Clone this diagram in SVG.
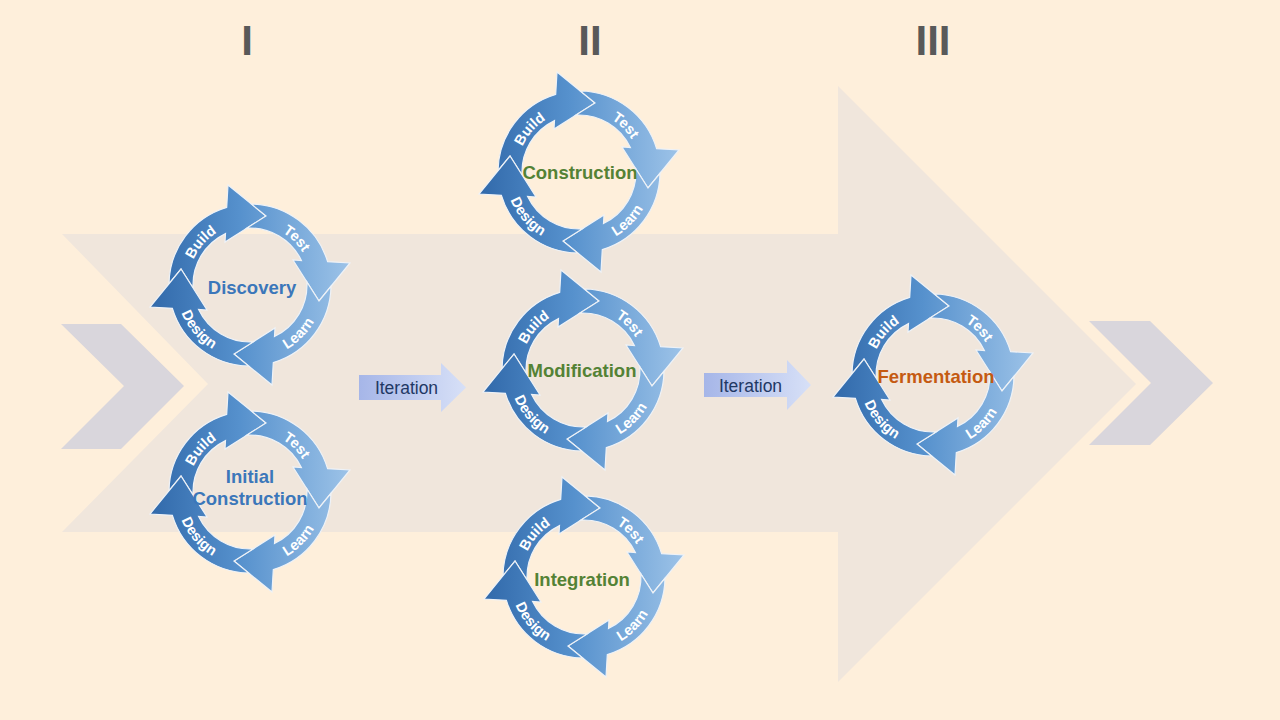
<svg xmlns="http://www.w3.org/2000/svg" width="1280" height="720" viewBox="0 0 1280 720">
<style>
.numeral{font-family:"Liberation Sans",Arial,sans-serif;font-weight:bold;font-size:42px;fill:#595959;text-anchor:middle}
.step{font-family:"Liberation Sans",Arial,sans-serif;font-weight:bold;font-size:14.5px;fill:#FFFFFF;text-anchor:middle}
.title{font-family:"Liberation Sans",Arial,sans-serif;font-weight:bold;font-size:18.5px;text-anchor:middle}
.blue{fill:#3B77BA}
.green{fill:#548235}
.orange{fill:#C55A11}
.iter{font-family:"Liberation Sans",Arial,sans-serif;font-size:17.5px;fill:#1F3864;text-anchor:middle}
.arr{fill:url(#ringGrad);stroke:#EEF2F7;stroke-width:1.2;stroke-linejoin:miter}
.iterArrow{fill:url(#iterGrad)}
</style>
<defs>
<linearGradient id="ringGrad" gradientUnits="userSpaceOnUse" x1="-100" y1="0" x2="100" y2="0">
<stop offset="0" stop-color="#3169AA"/>
<stop offset="0.45" stop-color="#5691CD"/>
<stop offset="1" stop-color="#9DC3E8"/>
</linearGradient>
<linearGradient id="iterGrad" x1="0" y1="0" x2="1" y2="0">
<stop offset="0" stop-color="#A6B6E8"/>
<stop offset="1" stop-color="#D7E0F7"/>
</linearGradient>
<path id="tpBuild" d="M-61.85,4.32 A62,62 0 0 1 -4.32,-61.85"/>
<path id="tpTest" d="M0,-62 A62,62 0 0 1 62,0"/>
<path id="tpLearn" d="M0,74 A74,74 0 0 0 74,0"/>
<path id="tpDesign" d="M-73.82,-5.16 A74,74 0 0 0 -5.16,73.82"/>
<g id="ring">
<path class="arr" d="M-81,-1.3 A81,81 0 0 1 -23.3,-77.6 L-22,-100 L16,-69 L-25,-43 L-24.5,-51.4 A57,57 0 0 0 -56.9,3.1 L-69,-16 Z"/>
<path class="arr" d="M1.3,-81 A81,81 0 0 1 77.6,-23.3 L100,-22 L69,16 L43,-25 L51.4,-24.5 A57,57 0 0 0 -3.1,-56.9 L16,-69 Z"/>
<path class="arr" d="M81,1.3 A81,81 0 0 1 23.3,77.6 L22,100 L-16,69 L25,43 L24.5,51.4 A57,57 0 0 0 56.9,-3.1 L69,16 Z"/>
<path class="arr" d="M-1.3,81 A81,81 0 0 1 -77.6,23.3 L-100,22 L-69,-16 L-43,25 L-51.4,24.5 A57,57 0 0 0 3.1,56.9 L-16,69 Z"/>
</g>
</defs>

<rect x="0" y="0" width="1280" height="720" fill="#FEEFDB"/>
<g id="background">
<polygon points="62,234 838,234 838,86 1136,384 838,682 838,532 62,532 208,384" fill="#F0E6DC"/>
<polygon points="61,324 121,324 184,386 121,449 61,449 124,386" fill="#D9D6DC"/>
<polygon points="1089,321 1150,321 1213,383 1150,445 1089,445 1151,383" fill="#D9D6DC"/>
</g>

<g id="numerals">
<text class="numeral" x="247" y="55">I</text>
<text class="numeral" x="590" y="55">II</text>
<text class="numeral" x="933" y="55">III</text>
</g>

<g id="connectors">
<g id="iteration1">
<path class="iterArrow" d="M359,375 H441 V363 L466,387.5 L441,412 V400 H359 Z"/>
<text class="iter" x="406.5" y="394">Iteration</text>
</g>
<g id="iteration2">
<path class="iterArrow" d="M704,373 H787 V360 L811,385 L787,410 V397 H704 Z"/>
<text class="iter" x="750.5" y="392">Iteration</text>
</g>
</g>

<g id="discovery" transform="translate(250,285)">
<use href="#ring"/>
<text class="step"><textPath href="#tpBuild" startOffset="50%">Build</textPath></text>
<text class="step"><textPath href="#tpTest" startOffset="50%">Test</textPath></text>
<text class="step"><textPath href="#tpLearn" startOffset="50%">Learn</textPath></text>
<text class="step"><textPath href="#tpDesign" startOffset="50%">Design</textPath></text>
<text class="title blue" x="2" y="8.5">Discovery</text>
</g>

<g id="initial-construction" transform="translate(250,492)">
<use href="#ring"/>
<text class="step"><textPath href="#tpBuild" startOffset="50%">Build</textPath></text>
<text class="step"><textPath href="#tpTest" startOffset="50%">Test</textPath></text>
<text class="step"><textPath href="#tpLearn" startOffset="50%">Learn</textPath></text>
<text class="step"><textPath href="#tpDesign" startOffset="50%">Design</textPath></text>
<text class="title blue" x="0" y="-9">Initial</text>
<text class="title blue" x="0" y="13">Construction</text>
</g>

<g id="construction" transform="translate(579,172)">
<use href="#ring"/>
<text class="step"><textPath href="#tpBuild" startOffset="50%">Build</textPath></text>
<text class="step"><textPath href="#tpTest" startOffset="50%">Test</textPath></text>
<text class="step"><textPath href="#tpLearn" startOffset="50%">Learn</textPath></text>
<text class="step"><textPath href="#tpDesign" startOffset="50%">Design</textPath></text>
<text class="title green" x="1" y="6.5">Construction</text>
</g>

<g id="modification" transform="translate(583,370)">
<use href="#ring"/>
<text class="step"><textPath href="#tpBuild" startOffset="50%">Build</textPath></text>
<text class="step"><textPath href="#tpTest" startOffset="50%">Test</textPath></text>
<text class="step"><textPath href="#tpLearn" startOffset="50%">Learn</textPath></text>
<text class="step"><textPath href="#tpDesign" startOffset="50%">Design</textPath></text>
<text class="title green" x="-1" y="6.5">Modification</text>
</g>

<g id="integration" transform="translate(584,577)">
<use href="#ring"/>
<text class="step"><textPath href="#tpBuild" startOffset="50%">Build</textPath></text>
<text class="step"><textPath href="#tpTest" startOffset="50%">Test</textPath></text>
<text class="step"><textPath href="#tpLearn" startOffset="50%">Learn</textPath></text>
<text class="step"><textPath href="#tpDesign" startOffset="50%">Design</textPath></text>
<text class="title green" x="-2" y="8.5">Integration</text>
</g>

<g id="fermentation" transform="translate(933,375)">
<use href="#ring"/>
<text class="step"><textPath href="#tpBuild" startOffset="50%">Build</textPath></text>
<text class="step"><textPath href="#tpTest" startOffset="50%">Test</textPath></text>
<text class="step"><textPath href="#tpLearn" startOffset="50%">Learn</textPath></text>
<text class="step"><textPath href="#tpDesign" startOffset="50%">Design</textPath></text>
<text class="title orange" x="3" y="7.5">Fermentation</text>
</g>
</svg>
